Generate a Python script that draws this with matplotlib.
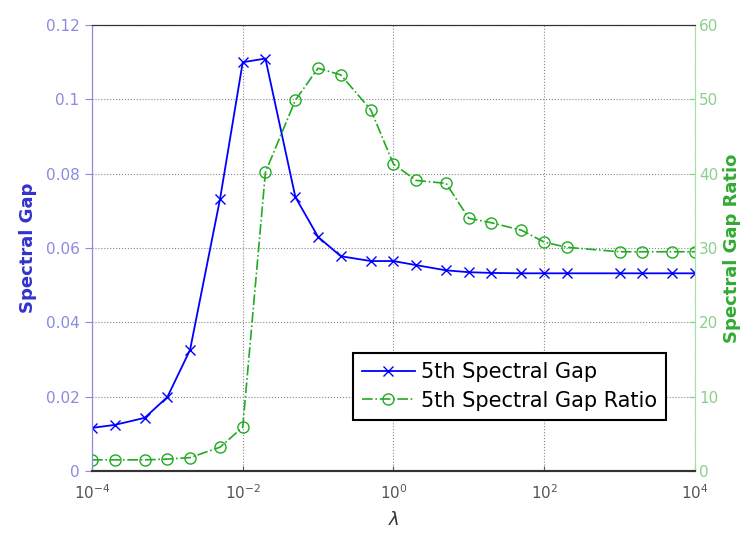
import numpy as np
import matplotlib
matplotlib.use("Agg")
from matplotlib import pyplot as plt

# lambda values (log spaced, 1-2-5 steps)
lam = [1e-4, 2e-4, 5e-4, 1e-3, 2e-3, 5e-3, 1e-2, 2e-2, 5e-2, 0.1, 0.2, 0.5,
       1, 2, 5, 10, 20, 50, 100, 200, 1000, 2000, 5000, 10000]

# 5th spectral gap (left axis)
gap = [0.0116, 0.0124, 0.0143, 0.0199, 0.0326, 0.0732, 0.110, 0.111, 0.0737,
       0.063, 0.0578, 0.0565, 0.0565, 0.0554, 0.0540, 0.0535, 0.0533, 0.0532,
       0.0532, 0.0532, 0.0532, 0.0532, 0.0532, 0.0532]

# 5th spectral gap ratio (right axis)
ratio = [1.5, 1.5, 1.5, 1.6, 1.8, 3.2, 5.9, 40.2, 49.9, 54.2, 53.3, 48.6,
         41.3, 39.1, 38.7, 34.0, 33.4, 32.4, 30.8, 30.1, 29.5, 29.5, 29.5, 29.5]

xticks = [1e-4, 1e-2, 1e0, 1e2, 1e4]
xticklabels = [r"$10^{-4}$", r"$10^{-2}$", r"$10^{0}$", r"$10^{2}$", r"$10^{4}$"]
gap_ticks = [0, 0.02, 0.04, 0.06, 0.08, 0.1, 0.12]
gap_ticklabels = ["0", "0.02", "0.04", "0.06", "0.08", "0.1", "0.12"]
ratio_ticks = [0, 10, 20, 30, 40, 50, 60]

blue = "#0000ff"
green = "#22aa22"

fig = plt.figure(figsize=(7.48, 5.34), dpi=100)
ax = fig.add_axes([0.123, 0.118, 0.806, 0.835])
ax2 = ax.twinx()

l1, = ax.plot(lam, gap, color=blue, marker="x", markersize=7, lw=1.3,
              label="5th Spectral Gap")
l2, = ax2.plot(lam, ratio, color=green, marker="o", markersize=8, lw=1.2,
               ls="-.", markerfacecolor="none", label="5th Spectral Gap Ratio")

ax.set_xscale("log")
ax.set_xlim(1e-4, 1e4)
ax.set_ylim(0, 0.12)
ax2.set_ylim(0, 60)
ax.set_xticks(xticks)
ax.set_xticklabels(xticklabels)
ax.xaxis.set_minor_locator(matplotlib.ticker.NullLocator())
ax.set_yticks(gap_ticks)
ax.set_yticklabels(gap_ticklabels)
ax2.set_yticks(ratio_ticks)

ax.grid(True, ls=":", color="#888888", lw=0.8)

ax.tick_params(axis="y", colors="#8a8ae0", labelsize=11, direction="out",
               length=5, pad=4)
ax.tick_params(axis="x", colors="#555555", labelsize=11, direction="in",
               pad=9)
ax2.tick_params(axis="y", colors="#8ad08a", labelsize=11, direction="in",
                length=4, pad=3)

for a in (ax, ax2):
    a.spines["left"].set_color("#8a8ae0")
    a.spines["right"].set_color("#a8e0a8")
    a.spines["top"].set_color("#333333")
    a.spines["bottom"].set_color("#333333")
    a.spines["bottom"].set_linewidth(1.5)

ax.set_ylabel("Spectral Gap", color="#3333cc", fontsize=13, fontweight="bold",
              labelpad=6)
ax2.set_ylabel("Spectral Gap Ratio", color="#33aa33", fontsize=13,
               fontweight="bold", labelpad=3)
ax.set_xlabel(r"$\lambda$", fontsize=13, color="#333333", labelpad=6)

leg = ax.legend(handles=[l1, l2], loc="lower left",
                bbox_to_anchor=(0.433, 0.114), fontsize=15, fancybox=False,
                framealpha=1, edgecolor="black", shadow=False,
                handlelength=2.5, handletextpad=0.3, borderpad=0.45,
                labelspacing=0.4, borderaxespad=0)
leg.get_frame().set_linewidth(1.5)

fig.savefig("out.png", dpi=100)
